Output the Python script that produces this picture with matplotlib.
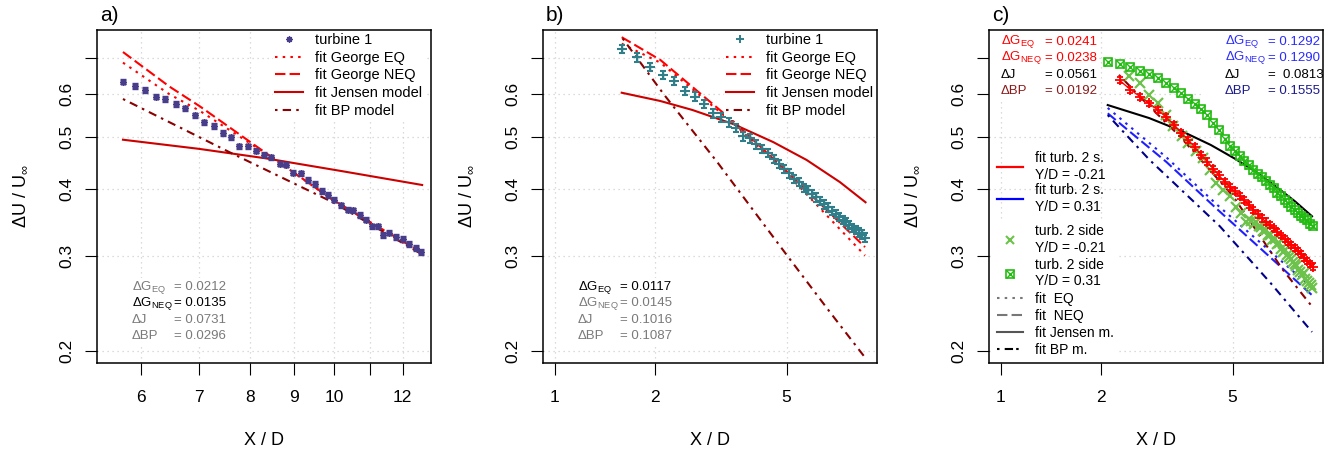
import matplotlib
matplotlib.use('Agg')
import matplotlib.pyplot as plt
from matplotlib.lines import Line2D
from matplotlib.patches import Rectangle
from matplotlib.legend_handler import HandlerTuple
from matplotlib.ticker import NullLocator

plt.rcParams['font.family'] = ['Liberation Sans', 'DejaVu Sans']
plt.rcParams['mathtext.fontset'] = 'custom'
plt.rcParams['mathtext.rm'] = 'Liberation Sans'
plt.rcParams['mathtext.it'] = 'Liberation Sans:italic'
plt.rcParams['mathtext.bf'] = 'Liberation Sans:bold'

# ---------------- panel a) : turbine 1 ----------------
xa = [5.72, 5.90, 6.07, 6.24, 6.40, 6.59, 6.75, 6.93, 7.09, 7.27,
      7.45, 7.61, 7.78, 7.96, 8.14, 8.31, 8.47, 8.66, 8.81, 8.98,
      9.17, 9.33, 9.50, 9.69, 9.84, 10.01, 10.19, 10.38, 10.53, 10.70,
      10.89, 11.06, 11.23, 11.40, 11.58, 11.79, 12.00, 12.21, 12.43, 12.60]
ya = [0.633, 0.622, 0.611, 0.594, 0.588, 0.575, 0.565, 0.549, 0.532, 0.524,
      0.508, 0.499, 0.480, 0.480, 0.471, 0.463, 0.458, 0.446, 0.444, 0.429,
      0.428, 0.416, 0.409, 0.397, 0.390, 0.382, 0.373, 0.366, 0.365, 0.358,
      0.351, 0.341, 0.341, 0.329, 0.332, 0.326, 0.323, 0.316, 0.311, 0.306]
ea = [0.007, 0.007, 0.007, 0.007, 0.007, 0.007, 0.006, 0.006, 0.006, 0.006,
      0.006, 0.006, 0.006, 0.006, 0.005, 0.005, 0.005, 0.005, 0.005, 0.005,
      0.005, 0.005, 0.005, 0.005, 0.005, 0.004, 0.004, 0.004, 0.004, 0.004,
      0.004, 0.004, 0.004, 0.004, 0.004, 0.004, 0.004, 0.004, 0.004, 0.004]
fa_eq_x = [5.72, 6.47, 7.01, 8.36, 9.97, 12.60]
fa_eq_y = [0.687, 0.600, 0.559, 0.465, 0.382, 0.303]
fa_neq_x = [5.72, 6.47, 7.01, 8.36, 9.97, 12.60]
fa_neq_y = [0.719, 0.620, 0.570, 0.466, 0.382, 0.305]
fa_j_x = [5.72, 7.00, 8.36, 10.20, 12.63]
fa_j_y = [0.494, 0.475, 0.456, 0.432, 0.407]
fa_bp_x = [5.72, 7.59, 9.97, 12.60]
fa_bp_y = [0.588, 0.468, 0.378, 0.303]
da_labels = ['\u0394G$_\\mathregular{EQ}$', '\u0394G$_\\mathregular{NEQ}$', '\u0394J', '\u0394BP']
da_values = ['0.0212', '0.0135', '0.0731', '0.0296']

# ---------------- panel b) : turbine 1 ----------------
xb = [1.59, 1.77, 1.94, 2.12, 2.29, 2.47, 2.64, 2.82, 3.00, 3.17,
      3.35, 3.52, 3.70, 3.87, 4.05, 4.22, 4.40, 4.57, 4.75, 4.93,
      5.10, 5.28, 5.45, 5.63, 5.80, 5.98, 6.15, 6.33, 6.51, 6.68,
      6.86, 7.03, 7.21, 7.38, 7.56, 7.73, 7.91, 8.08, 8.26, 8.44, 8.61]
yb = [0.728, 0.703, 0.675, 0.652, 0.635, 0.609, 0.594, 0.576, 0.553, 0.544,
      0.532, 0.519, 0.501, 0.497, 0.484, 0.474, 0.466, 0.455, 0.445, 0.436,
      0.428, 0.418, 0.413, 0.402, 0.399, 0.392, 0.386, 0.380, 0.375, 0.370,
      0.364, 0.360, 0.355, 0.351, 0.347, 0.343, 0.339, 0.336, 0.332, 0.329, 0.325]
eb = [0.013, 0.013, 0.012, 0.012, 0.011, 0.011, 0.011, 0.010, 0.010, 0.010,
      0.010, 0.009, 0.009, 0.009, 0.009, 0.008, 0.008, 0.008, 0.008, 0.008,
      0.008, 0.007, 0.007, 0.007, 0.007, 0.007, 0.007, 0.007, 0.007, 0.007,
      0.006, 0.006, 0.006, 0.006, 0.006, 0.006, 0.006, 0.006, 0.006, 0.006, 0.006]
fb_eq_x = [1.59, 2.08, 3.46, 5.00, 8.63]
fb_eq_y = [0.745, 0.687, 0.530, 0.428, 0.301]
fb_neq_x = [1.59, 2.08, 3.46, 5.00, 8.63]
fb_neq_y = [0.766, 0.695, 0.534, 0.432, 0.312]
fb_j_x = [1.59, 2.08, 2.60, 3.46, 4.56, 5.75, 7.25, 8.66]
fb_j_y = [0.604, 0.583, 0.561, 0.528, 0.489, 0.453, 0.412, 0.378]
fb_bp_x = [1.60, 2.13, 3.08, 5.00, 6.77, 8.66]
fb_bp_y = [0.762, 0.600, 0.450, 0.302, 0.236, 0.194]
db_values = ['0.0117', '0.0145', '0.1016', '0.1087']

# ---------------- panel c) : turbine 2 side ----------------
xc_sq = [2.10, 2.28, 2.46, 2.63, 2.80, 2.98, 3.15, 3.33, 3.50, 3.68,
         3.85, 4.03, 4.20, 4.38, 4.55, 4.73, 4.90, 5.08, 5.25, 5.43,
         5.60, 5.78, 5.95, 6.13, 6.30, 6.48, 6.65, 6.83, 7.00, 7.18,
         7.35, 7.53, 7.70, 7.88, 8.05, 8.23, 8.40, 8.58, 8.72]
yc_sq = [0.690, 0.682, 0.675, 0.664, 0.654, 0.643, 0.630, 0.616, 0.603, 0.588,
         0.575, 0.563, 0.548, 0.531, 0.516, 0.495, 0.481, 0.471, 0.461, 0.451,
         0.443, 0.434, 0.426, 0.421, 0.414, 0.407, 0.401, 0.394, 0.388, 0.382,
         0.377, 0.371, 0.366, 0.361, 0.357, 0.354, 0.350, 0.345, 0.341]
xc_x = [2.44, 2.63, 2.80, 2.98, 3.15, 3.31, 3.51, 3.67, 3.87, 4.06,
        4.27, 4.47, 4.68, 4.90, 5.11, 5.32, 5.51,
        5.60, 5.70, 5.80, 5.90, 6.00, 6.10, 6.20, 6.30, 6.40, 6.50,
        6.60, 6.70, 6.80, 6.90, 7.00, 7.10, 7.20, 7.30, 7.40, 7.50,
        7.60, 7.70, 7.80, 7.90, 8.00, 8.10, 8.20, 8.30, 8.40, 8.50, 8.60, 8.70]
yc_x = [0.649, 0.629, 0.598, 0.577, 0.549, 0.523, 0.501, 0.487, 0.470, 0.457,
        0.434, 0.411, 0.399, 0.388, 0.371, 0.361, 0.348,
        0.352, 0.349, 0.345, 0.347, 0.341, 0.340, 0.334, 0.336, 0.329, 0.328,
        0.322, 0.323, 0.316, 0.317, 0.310, 0.306, 0.308, 0.301, 0.299, 0.296,
        0.293, 0.290, 0.288, 0.283, 0.281, 0.277, 0.279, 0.272, 0.270, 0.268, 0.265, 0.262]
xc_r = [2.28, 2.46, 2.63, 2.80, 2.98, 3.15, 3.33, 3.50, 3.68,
        3.85, 4.03, 4.20, 4.38, 4.55, 4.73, 4.90, 5.08, 5.25, 5.43,
        5.60, 5.78, 5.95, 6.13, 6.30, 6.48, 6.65, 6.83, 7.00, 7.18,
        7.35, 7.53, 7.70, 7.88, 8.05, 8.23, 8.40, 8.58, 8.72]
yc_r = [0.637, 0.612, 0.594, 0.577, 0.561, 0.544, 0.527, 0.509, 0.493, 0.478,
        0.463, 0.450, 0.436, 0.424, 0.413, 0.404, 0.396, 0.388, 0.381, 0.374,
        0.366, 0.359, 0.353, 0.348, 0.343, 0.338, 0.333, 0.328, 0.323, 0.319,
        0.315, 0.311, 0.307, 0.303, 0.298, 0.294, 0.290, 0.287]
ec_r = [0.008, 0.008, 0.008, 0.007, 0.007, 0.007, 0.007, 0.007, 0.006, 0.006,
        0.006, 0.006, 0.006, 0.006, 0.005, 0.005, 0.005, 0.005, 0.005, 0.005,
        0.005, 0.005, 0.005, 0.005, 0.004, 0.004, 0.004, 0.004, 0.004, 0.004,
        0.004, 0.004, 0.004, 0.004, 0.004, 0.004, 0.004, 0.004]
fc_bpr_x = [2.27, 2.75, 3.47, 5.02, 7.10, 8.69]
fc_bpr_y = [0.652, 0.577, 0.501, 0.388, 0.283, 0.242]
fc_eqb_x = [2.10, 3.16, 4.47, 8.69]
fc_eqb_y = [0.566, 0.458, 0.375, 0.262]
fc_neqb_x = [2.10, 3.16, 4.47, 8.69]
fc_neqb_y = [0.553, 0.449, 0.368, 0.254]
fc_bpb_x = [2.10, 2.81, 4.58, 6.50, 8.69]
fc_bpb_y = [0.549, 0.453, 0.341, 0.268, 0.217]
fc_j_x = [2.10, 2.80, 3.50, 4.30, 5.10, 5.90, 6.70, 7.70, 8.69]
fc_j_y = [0.573, 0.542, 0.513, 0.483, 0.455, 0.430, 0.406, 0.380, 0.356]
dc_left = ['0.0241', '0.0238', '0.0561', '0.0192']
dc_right = ['0.1292', '0.1290', ' 0.0813', '0.1555']

yticks = [0.2, 0.3, 0.4, 0.5, 0.6, 0.7]
ylabels = ['0.2', '0.3', '0.4', '0.5', '0.6', '']

PURPLE = '#483d8b'
TEAL = '#2f7e8a'
GREY = '#7a7a7a'
GREEN = '#22bb11'
LGREEN = '#6cc24a'
DOT = (0, (1.2, 2.5))
DASH = (0, (5, 2))
DASHDOT = (0, (1.2, 2.5, 4, 2.5))

fig = plt.figure(figsize=(13.31, 4.58), dpi=100)
W, H = 1331.0, 458.0
axa = fig.add_axes([97 / W, 95 / H, 334 / W, 333 / H])
axb = fig.add_axes([543 / W, 95 / H, 334 / W, 333 / H])
axc = fig.add_axes([989 / W, 95 / H, 334 / W, 333 / H])


def style_axes(ax, xlim, xt, xtl, title):
    ax.set_xscale('log')
    ax.set_yscale('log')
    ax.set_xlim(xlim)
    ax.set_ylim(0.19, 0.79)
    ax.set_xticks(xt, labels=xtl)
    ax.set_yticks(yticks, labels=ylabels, rotation=90, va='center')
    ax.xaxis.set_minor_locator(NullLocator())
    ax.yaxis.set_minor_locator(NullLocator())
    ax.set_axisbelow(True)
    ax.grid(True, color='#d0d0d0', ls=(0, (1, 3)), lw=0.9)
    ax.tick_params(direction='out', length=8.5, width=0.8, labelsize=12.5)
    ax.tick_params(axis='x', pad=11)
    ax.tick_params(axis='y', pad=7.5)
    for s in ax.spines.values():
        s.set_linewidth(1.1)
    ax.set_xlabel('X / D', fontsize=13)
    ax.xaxis.set_label_coords(0.5, -0.206)
    ax.set_ylabel('\u0394U / U$_\\infty$', fontsize=13)
    ax.yaxis.set_label_coords(-0.204, 0.5)
    ax.text(0.009, 1.027, title, transform=ax.transAxes, fontsize=15,
            ha='left', va='baseline')


def deltas(ax, x0, xeq, ys, labels, values, colors, size=9.5):
    for y, lab, val, col in zip(ys, labels, values, colors):
        ax.text(x0, y, lab, transform=ax.transAxes, fontsize=size, color=col,
                va='center', ha='left', zorder=3)
        ax.text(xeq, y, '= ' + val, transform=ax.transAxes, fontsize=size,
                color=col, va='center', ha='left', zorder=3)


def white_box(ax, x0, y0, w, h):
    ax.add_patch(Rectangle((x0, y0), w, h, transform=ax.transAxes,
                           facecolor='white', edgecolor='none', zorder=1.5))


def fit_legend(ax, marker_handle, x0):
    handles = [marker_handle,
               Line2D([], [], color='red', ls=DOT, lw=1.5),
               Line2D([], [], color='red', ls=DASH, lw=1.5),
               Line2D([], [], color='#cd0000', lw=1.5),
               Line2D([], [], color='#8b0000', ls=DASHDOT, lw=1.5)]
    labels = ['turbine 1', 'fit George EQ', 'fit George NEQ',
              'fit Jensen model', 'fit BP model']
    leg = ax.legend(handles, labels, loc='upper left', bbox_to_anchor=(x0, 0.997),
                    fontsize=10.5, frameon=True, facecolor='white', edgecolor='none',
                    framealpha=1, fancybox=False, borderpad=0.15, borderaxespad=0,
                    handlelength=1.95, handletextpad=0.8, labelspacing=0.25,
                    numpoints=1)
    leg.set_zorder(2.4)
    return leg


# ---------- a) ----------
style_axes(axa, (5.34, 12.93), [6, 7, 8, 9, 10, 11, 12],
           ['6', '7', '8', '9', '10', '', '12'], 'a)')
axa.plot(fa_eq_x, fa_eq_y, color='red', ls=DOT, lw=1.5, zorder=2)
axa.plot(fa_neq_x, fa_neq_y, color='red', ls=DASH, lw=1.5, zorder=2)
axa.plot(fa_j_x, fa_j_y, color='#cd0000', lw=1.5, zorder=2)
axa.plot(fa_bp_x, fa_bp_y, color='#8b0000', ls=DASHDOT, lw=1.5, zorder=2)
axa.errorbar(xa, ya, yerr=ea, fmt='none', ecolor=PURPLE, elinewidth=0.9,
             capsize=2, zorder=3)
axa.plot(xa, ya, ls='none', marker=(8, 2, 0), ms=5, mew=1.1, color=PURPLE, zorder=3)
white_box(axa, 0.093, 0.055, 0.29, 0.2)
deltas(axa, 0.105, 0.231, [0.228, 0.180, 0.129, 0.081], da_labels, da_values,
       [GREY, 'black', GREY, GREY])
fit_legend(axa, Line2D([], [], ls='none', marker=(8, 2, 0), ms=4.5, mew=1,
                       color=PURPLE), 0.526)

# ---------- b) ----------
style_axes(axb, (0.92, 9.38), [1, 2, 5], ['1', '2', '5'], 'b)')
axb.plot(fb_eq_x, fb_eq_y, color='red', ls=DOT, lw=1.5, zorder=2)
axb.plot(fb_neq_x, fb_neq_y, color='red', ls=DASH, lw=1.5, zorder=2)
axb.plot(fb_j_x, fb_j_y, color='#cd0000', lw=1.5, zorder=2)
axb.plot(fb_bp_x, fb_bp_y, color='#8b0000', ls=DASHDOT, lw=1.5, zorder=2)
axb.errorbar(xb, yb, yerr=eb, fmt='+', ms=6.5, mew=1.5, color=TEAL, ecolor=TEAL,
             elinewidth=1.0, capsize=2.5, zorder=3)
white_box(axb, 0.093, 0.055, 0.29, 0.2)
deltas(axb, 0.105, 0.231, [0.228, 0.180, 0.129, 0.081], da_labels, db_values,
       ['black', GREY, GREY, GREY])
fit_legend(axb, Line2D([], [], ls='none', marker='+', ms=6, mew=1.4, color=TEAL),
           0.541)

# ---------- c) ----------
style_axes(axc, (0.92, 9.38), [1, 2, 5], ['1', '2', '5'], 'c)')
axc.plot(fc_eqb_x, fc_eqb_y, color='#1f1fff', ls=DOT, lw=1.5, zorder=2)
axc.plot(fc_neqb_x, fc_neqb_y, color='#1f1fff', ls=DASH, lw=1.5, zorder=2)
axc.plot(fc_bpb_x, fc_bpb_y, color='#00008b', ls=DASHDOT, lw=1.5, zorder=2)
axc.plot(fc_bpr_x, fc_bpr_y, color='#8b0000', ls=DASHDOT, lw=1.5, zorder=2)
axc.plot(fc_j_x, fc_j_y, color='black', lw=1.5, zorder=2)
axc.plot(xc_x, yc_x, ls='none', marker='x', ms=6.5, mew=1.6, color=LGREEN, zorder=3)
axc.plot(xc_r, yc_r, color='red', lw=1.0, zorder=3)
axc.errorbar(xc_r, yc_r, yerr=ec_r, fmt='+', ms=7, mew=1.3, color='red',
             ecolor='red', elinewidth=0.9, capsize=2, zorder=3)
axc.plot(xc_sq, yc_sq, ls='none', marker='s', ms=6, mew=1.2, mfc='none',
         color=GREEN, zorder=3)
axc.plot(xc_sq, yc_sq, ls='none', marker='x', ms=6, mew=1.0, color=GREEN, zorder=3)

white_box(axc, 0.0, 0.79, 0.33, 0.21)
white_box(axc, 0.645, 0.79, 0.355, 0.21)
deltas(axc, 0.036, 0.167, [0.964, 0.916, 0.865, 0.817], da_labels, dc_left,
       ['red', 'red', 'black', '#8b1a1a'])
deltas(axc, 0.706, 0.834, [0.964, 0.916, 0.865, 0.817], da_labels, dc_right,
       ['#2a2aff', '#2a2aff', 'black', '#1a1a8b'])

leg1 = axc.legend([Line2D([], [], color='red', lw=1.6),
                   Line2D([], [], color='blue', lw=1.6)],
                  ['fit turb. 2 s.\nY/D = -0.21', 'fit turb. 2 s.\nY/D = 0.31'],
                  loc='upper left', bbox_to_anchor=(0.015, 0.645), fontsize=10,
                  frameon=False, borderpad=0.2, borderaxespad=0,
                  handlelength=1.9, handletextpad=0.85, labelspacing=0.05)
for t in leg1.get_texts():
    t.set_linespacing(1.3)
axc.add_artist(leg1)
sq = Line2D([], [], ls='none', marker='s', ms=6, mew=1.2, mfc='none', color=GREEN)
sqx = Line2D([], [], ls='none', marker='x', ms=6, mew=1.0, color=GREEN)
h2 = [Line2D([], [], ls='none', marker='x', ms=6, mew=1.5, color=LGREEN),
      (sq, sqx),
      Line2D([], [], color='#777777', ls=DOT, lw=1.5),
      Line2D([], [], color='#777777', ls=DASH, lw=1.5),
      Line2D([], [], color='#555555', lw=1.5),
      Line2D([], [], color='black', ls=(0, (1.2, 2.5, 4, 1.5)), lw=1.5)]
l2 = ['turb. 2 side\nY/D = -0.21', 'turb. 2 side\nY/D = 0.31', 'fit  EQ',
      'fit  NEQ', 'fit Jensen m.', 'fit BP m.']
leg2 = axc.legend(h2, l2, loc='upper left', bbox_to_anchor=(0.015, 0.426), fontsize=10,
                  frameon=True, facecolor='white', edgecolor='none', framealpha=1,
                  fancybox=False, borderpad=0.2, borderaxespad=0, handlelength=1.9,
                  handletextpad=0.85, labelspacing=0.22, numpoints=1,
                  handler_map={tuple: HandlerTuple(ndivide=1)})
for t in leg2.get_texts():
    t.set_linespacing(1.25)
leg2.set_zorder(2.4)

fig.savefig('out.png', dpi=100)
